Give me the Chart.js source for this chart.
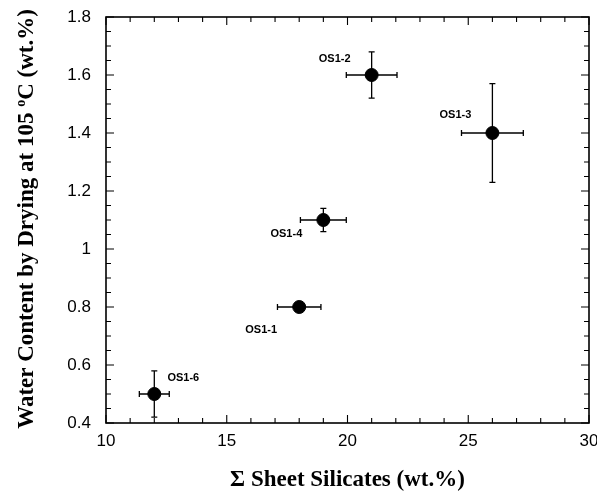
<!DOCTYPE html>
<html>
<head>
<meta charset="utf-8">
<script src="https://cdn.jsdelivr.net/npm/chart.js@4"></script>
<style>
  html, body { margin: 0; padding: 0; background: #fff; }
  #wrap { width: 597px; height: 496px; position: relative; }
</style>
</head>
<body>
<div id="wrap"><canvas id="chart"></canvas></div>
<script>
// Data
const samples = ['OS1-1', 'OS1-2', 'OS1-3', 'OS1-4', 'OS1-6'];
const sheetSilicates = [18, 21, 26, 19, 12];
const waterContent = [0.8, 1.6, 1.4, 1.1, 0.5];
const silicateErr = [0.9, 1.05, 1.28, 0.95, 0.62];
const waterErrUp = [0, 0.08, 0.17, 0.04, 0.08];
const waterErrDown = [0, 0.08, 0.17, 0.04, 0.08];
const xTicks = [10, 15, 20, 25, 30];
const yTicks = [0.4, 0.6, 0.8, 1.0, 1.2, 1.4, 1.6, 1.8];

// label offsets in pixels from each point centre
const labelOffsets = [[-38, 23], [-37, -16], [-37, -18], [-37, 14], [29, -16]];

const points = sheetSilicates.map((x, i) => ({ x: x, y: waterContent[i] }));

const tickFont = { family: '"Liberation Sans", Arial, sans-serif', size: 17 };
const titleFont = 'bold 23px "Liberation Serif", "Times New Roman", serif';
const supFont = 'bold 14px "Liberation Serif", "Times New Roman", serif';

// error bars, point labels, inward ticks, frame and axis titles
const decorations = {
    id: 'decorations',
    beforeDatasetsDraw(chart) {
        const ctx = chart.ctx;
        const xs = chart.scales.x, ys = chart.scales.y;
        ctx.save();
        ctx.strokeStyle = '#000';
        ctx.lineWidth = 1.3;
        points.forEach((p, i) => {
            const px = xs.getPixelForValue(p.x), py = ys.getPixelForValue(p.y);
            const x1 = xs.getPixelForValue(p.x - silicateErr[i]);
            const x2 = xs.getPixelForValue(p.x + silicateErr[i]);
            ctx.beginPath();
            ctx.moveTo(x1, py); ctx.lineTo(x2, py);
            ctx.moveTo(x1, py - 3); ctx.lineTo(x1, py + 3);
            ctx.moveTo(x2, py - 3); ctx.lineTo(x2, py + 3);
            ctx.stroke();
            if (waterErrUp[i] > 0) {
                const y1 = ys.getPixelForValue(p.y + waterErrUp[i]);
                const y2 = ys.getPixelForValue(p.y - waterErrDown[i]);
                ctx.beginPath();
                ctx.moveTo(px, y1); ctx.lineTo(px, y2);
                ctx.moveTo(px - 3, y1); ctx.lineTo(px + 3, y1);
                ctx.moveTo(px - 3, y2); ctx.lineTo(px + 3, y2);
                ctx.stroke();
            }
        });
        ctx.restore();
    },
    afterDraw(chart) {
        const ctx = chart.ctx;
        const a = chart.chartArea;
        const xs = chart.scales.x, ys = chart.scales.y;
        ctx.save();

        // point labels
        ctx.fillStyle = '#000';
        ctx.font = 'bold 11px "Liberation Sans", Arial, sans-serif';
        ctx.textAlign = 'center';
        ctx.textBaseline = 'middle';
        points.forEach((p, i) => {
            const px = xs.getPixelForValue(p.x), py = ys.getPixelForValue(p.y);
            ctx.fillText(samples[i], px + labelOffsets[i][0], py + labelOffsets[i][1]);
        });

        // frame
        ctx.strokeStyle = '#000';
        ctx.lineWidth = 1.6;
        ctx.strokeRect(a.left, a.top, a.right - a.left, a.bottom - a.top);

        // inward ticks on all four sides
        ctx.lineWidth = 1.1;
        ctx.beginPath();
        for (let v = 10; v <= 30; v++) {
            const len = v % 5 === 0 ? 8 : 5;
            const px = xs.getPixelForValue(v);
            ctx.moveTo(px, a.bottom); ctx.lineTo(px, a.bottom - len);
            ctx.moveTo(px, a.top); ctx.lineTo(px, a.top + len);
        }
        for (let k = 0; k <= 28; k++) {
            const v = 0.4 + k * 0.05;
            const len = k % 4 === 0 ? 8 : 5;
            const py = ys.getPixelForValue(v);
            ctx.moveTo(a.left, py); ctx.lineTo(a.left + len, py);
            ctx.moveTo(a.right, py); ctx.lineTo(a.right - len, py);
        }
        ctx.stroke();

        // x title
        ctx.font = titleFont;
        ctx.textAlign = 'center';
        ctx.textBaseline = 'alphabetic';
        ctx.fillText('\u03A3 Sheet Silicates (wt.%)', (a.left + a.right) / 2, 486);

        // y title with superscript degree
        const partA = 'Water Content by Drying at 105 ';
        const partB = 'o';
        const partC = 'C (wt.%)';
        ctx.font = titleFont;
        const wA = ctx.measureText(partA).width;
        const wC = ctx.measureText(partC).width;
        ctx.font = supFont;
        const wB = ctx.measureText(partB).width;
        const total = wA + wB + wC;
        ctx.translate(33, 219);
        ctx.rotate(-Math.PI / 2);
        ctx.textAlign = 'left';
        let x0 = -total / 2;
        ctx.font = titleFont;
        ctx.fillText(partA, x0, 0);
        x0 += wA;
        ctx.font = supFont;
        ctx.fillText(partB, x0, -8);
        x0 += wB;
        ctx.font = titleFont;
        ctx.fillText(partC, x0, 0);
        ctx.restore();
    }
};

function initChart() {
    const ctx = document.getElementById('chart').getContext('2d');
    new Chart(ctx, {
        type: 'scatter',
        data: {
            labels: samples,
            datasets: [{
                data: points,
                backgroundColor: '#000',
                borderColor: '#000',
                pointRadius: 6.5,
                pointHoverRadius: 6.5
            }]
        },
        options: {
            responsive: true,
            maintainAspectRatio: false,
            animation: false,
            layout: { padding: { top: 17, right: 8, left: 0, bottom: 0 } },
            plugins: {
                legend: { display: false },
                tooltip: { enabled: false }
            },
            scales: {
                x: {
                    type: 'linear',
                    min: 10,
                    max: 30,
                    afterBuildTicks: s => { s.ticks = xTicks.map(v => ({ value: v })); },
                    afterFit: s => { s.height = 73; s.paddingLeft = 0; s.paddingRight = 0; },
                    grid: { display: false, drawTicks: false },
                    border: { display: false },
                    ticks: {
                        padding: 8,
                        color: '#000',
                        font: tickFont,
                        callback: v => String(v)
                    }
                },
                y: {
                    type: 'linear',
                    min: 0.4,
                    max: 1.8,
                    afterBuildTicks: s => { s.ticks = yTicks.map(v => ({ value: v })); },
                    afterFit: s => { s.width = 106; s.paddingTop = 0; s.paddingBottom = 0; },
                    grid: { display: false, drawTicks: false },
                    border: { display: false },
                    ticks: {
                        padding: 15,
                        color: '#000',
                        font: tickFont,
                        callback: v => String(+v.toFixed(2))
                    }
                }
            }
        },
        plugins: [decorations]
    });
}

document.addEventListener('DOMContentLoaded', initChart);
</script>
</body>
</html>
